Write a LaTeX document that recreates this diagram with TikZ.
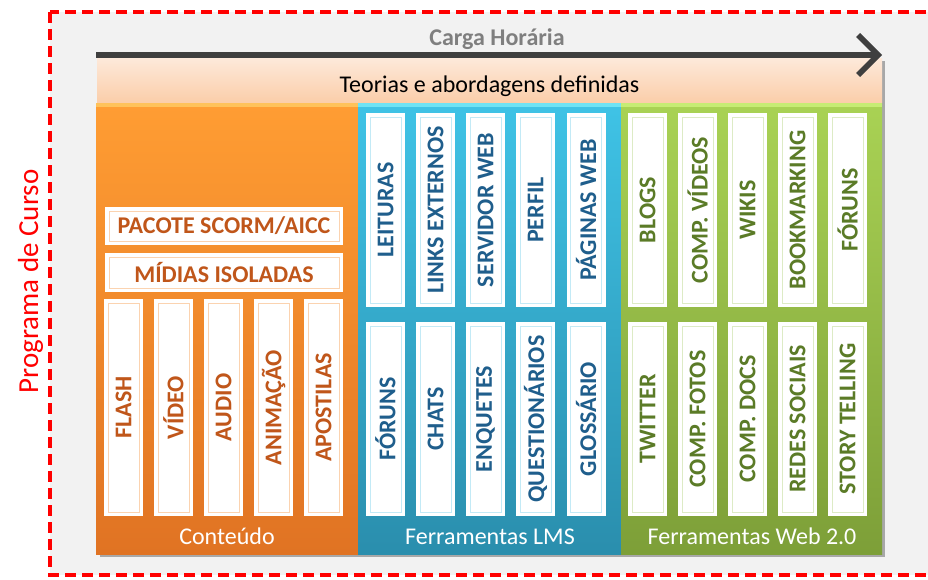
\documentclass[tikz,border=0pt]{standalone}
\usepackage{fontspec}
\setmainfont{Carlito}
\usetikzlibrary{arrows.meta}
\definecolor{bggray}{HTML}{F2F2F2}
\definecolor{otop}{HTML}{FF9D33}
\definecolor{obot}{HTML}{E07323}
\definecolor{ostrip}{HTML}{FFC25A}
\definecolor{btop}{HTML}{3FC3E6}
\definecolor{bbot}{HTML}{2A8EAD}
\definecolor{bstrip}{HTML}{6FE3F5}
\definecolor{gtop}{HTML}{A9D254}
\definecolor{gbot}{HTML}{7D9F38}
\definecolor{gstrip}{HTML}{C6EC74}
\definecolor{otext}{HTML}{C0561A}
\definecolor{btext}{HTML}{1F5E8C}
\definecolor{gtext}{HTML}{5B7B27}
\definecolor{oline}{HTML}{FBD3B0}
\definecolor{bline}{HTML}{C3EAF6}
\definecolor{gline}{HTML}{DDEBC5}
\definecolor{bandtop}{HTML}{FDE9DA}
\definecolor{bandbot}{HTML}{FBCEAA}
\definecolor{arrowc}{HTML}{3F3F3F}
\definecolor{cargac}{HTML}{7F7F7F}
\tikzset{
  colbox/.style={inner sep=0pt, minimum height=451pt, minimum width=262pt},
  collabel/.style={anchor=base, text=white, font=\fontsize{24}{24}\selectfont},
  inrect/.style={path picture={\draw[#1,line width=1pt] ([shift={(4pt,4pt)}]path picture bounding box.south west) rectangle ([shift={(-4pt,-4pt)}]path picture bounding box.north east);}},
  vbox/.style={fill=white, inner sep=0pt, minimum width=39pt, font=\bfseries\fontsize{24}{24}\selectfont},
  hbox/.style={fill=white, inner sep=0pt, minimum width=238pt, minimum height=38pt, font=\bfseries\fontsize{24}{24}\selectfont},
  oitem/.style={text=otext, inrect=oline},
  bitem/.style={text=btext, inrect=bline},
  gitem/.style={text=gtext, inrect=gline},
}
\begin{document}
\begin{tikzpicture}[x=1pt,y=-1pt]
\useasboundingbox (0,0) rectangle (928,579);
\clip (0,0) rectangle (928,579);
\fill[white] (0,0) rectangle (928,579);
% outer frame
\draw[red, line width=3.5pt, dash pattern=on 11pt off 6pt, fill=bggray] (50,12) rectangle (945,575);
\node[rotate=90, anchor=base, text=red, font=\fontsize{29}{29}\selectfont] (prog) at (38,281.5) {Programa de Curso};
\node[anchor=base, text=cargac, font=\bfseries\fontsize{24}{24}\selectfont] (carga) at (497,45) {Carga Horária};
% shadows
\fill[black, opacity=0.3] (100,61) rectangle (885,557);
% band
\node[inner sep=0pt, minimum width=785pt, minimum height=44pt, top color=bandtop, bottom color=bandbot] (band) at (489.5,80) {};
\node[anchor=base, font=\fontsize{24}{24}\selectfont] (bandtext) at (489.5,92) {Teorias e abordagens definidas};
% time arrow
\coordinate (aL) at (96,55);
\coordinate (aR) at (882,55);
\draw[arrowc, line width=6pt, -{Straight Barb[length=20pt,width=40pt,line width=5.5pt]}] (aL) -- (aR);
% columns
\node[colbox, top color=otop, bottom color=obot] (orange) at (227,328.5) {};
\node[colbox, minimum width=263pt, top color=btop, bottom color=bbot] (blue) at (489.5,328.5) {};
\node[colbox, minimum width=261pt, top color=gtop, bottom color=gbot] (green) at (751.5,328.5) {};
\fill[ostrip] (orange.north west) rectangle ([yshift=-4pt]orange.north east);
\fill[bstrip] (blue.north west) rectangle ([yshift=-4pt]blue.north east);
\fill[gstrip] (green.north west) rectangle ([yshift=-4pt]green.north east);
\node[collabel] (lconteudo) at (227,544) {Conteúdo};
\node[collabel] (llms) at (490,544) {Ferramentas LMS};
\node[collabel] (lweb) at (752,544) {Ferramentas Web 2.0};
% orange items
\node[hbox, oitem] (scorm) at (224,226) {PACOTE SCORM/AICC};
\node[hbox, oitem, minimum height=39pt] (midias) at (224,272.5) {MÍDIAS ISOLADAS};
\node[vbox, oitem, minimum height=217pt] (flash) at (123.5,407.5) {\rotatebox{90}{FLASH}};
\node[vbox, oitem, minimum height=217pt] (video) at (173.5,407.5) {\rotatebox{90}{VÍDEO}};
\node[vbox, oitem, minimum height=217pt] (audio) at (223.5,407.5) {\rotatebox{90}{AUDIO}};
\node[vbox, oitem, minimum height=217pt] (animacao) at (273.5,407.5) {\rotatebox{90}{ANIMAÇÃO}};
\node[vbox, oitem, minimum height=217pt] (apostilas) at (323.5,407.5) {\rotatebox{90}{APOSTILAS}};
% blue items
\node[vbox, bitem, minimum height=194pt] (leituras) at (385.5,210) {\rotatebox{90}{LEITURAS}};
\node[vbox, bitem, minimum height=194pt] (links) at (435.5,210) {\rotatebox{90}{LINKS EXTERNOS}};
\node[vbox, bitem, minimum height=194pt] (servidor) at (485.5,210) {\rotatebox{90}{SERVIDOR WEB}};
\node[vbox, bitem, minimum height=194pt] (perfil) at (535.5,210) {\rotatebox{90}{PERFIL}};
\node[vbox, bitem, minimum height=194pt] (paginas) at (586,210) {\rotatebox{90}{PÁGINAS WEB}};
\node[vbox, bitem, minimum height=194pt] (foruns) at (385.5,419) {\rotatebox{90}{FÓRUNS}};
\node[vbox, bitem, minimum height=194pt] (chats) at (435.5,419) {\rotatebox{90}{CHATS}};
\node[vbox, bitem, minimum height=194pt] (enquetes) at (485.5,419) {\rotatebox{90}{ENQUETES}};
\node[vbox, bitem, minimum height=194pt] (quest) at (535.5,419) {\rotatebox{90}{QUESTIONÁRIOS}};
\node[vbox, bitem, minimum height=194pt] (glossario) at (586,419) {\rotatebox{90}{GLOSSÁRIO}};
% green items
\node[vbox, gitem, minimum height=194pt] (blogs) at (647.5,210) {\rotatebox{90}{BLOGS}};
\node[vbox, gitem, minimum height=194pt] (compvid) at (697.5,210) {\rotatebox{90}{COMP. VÍDEOS}};
\node[vbox, gitem, minimum height=194pt] (wikis) at (747.5,210) {\rotatebox{90}{WIKIS}};
\node[vbox, gitem, minimum height=194pt] (bookmark) at (797.5,210) {\rotatebox{90}{BOOKMARKING}};
\node[vbox, gitem, minimum height=194pt] (gforuns) at (847.5,210) {\rotatebox{90}{FÓRUNS}};
\node[vbox, gitem, minimum height=194pt] (twitter) at (647.5,419) {\rotatebox{90}{TWITTER}};
\node[vbox, gitem, minimum height=194pt] (compfot) at (697.5,419) {\rotatebox{90}{COMP. FOTOS}};
\node[vbox, gitem, minimum height=194pt] (compdoc) at (747.5,419) {\rotatebox{90}{COMP. DOCS}};
\node[vbox, gitem, minimum height=194pt] (redes) at (797.5,419) {\rotatebox{90}{REDES SOCIAIS}};
\node[vbox, gitem, minimum height=194pt] (story) at (847.5,419) {\rotatebox{90}{STORY TELLING}};
\end{tikzpicture}
\end{document}
